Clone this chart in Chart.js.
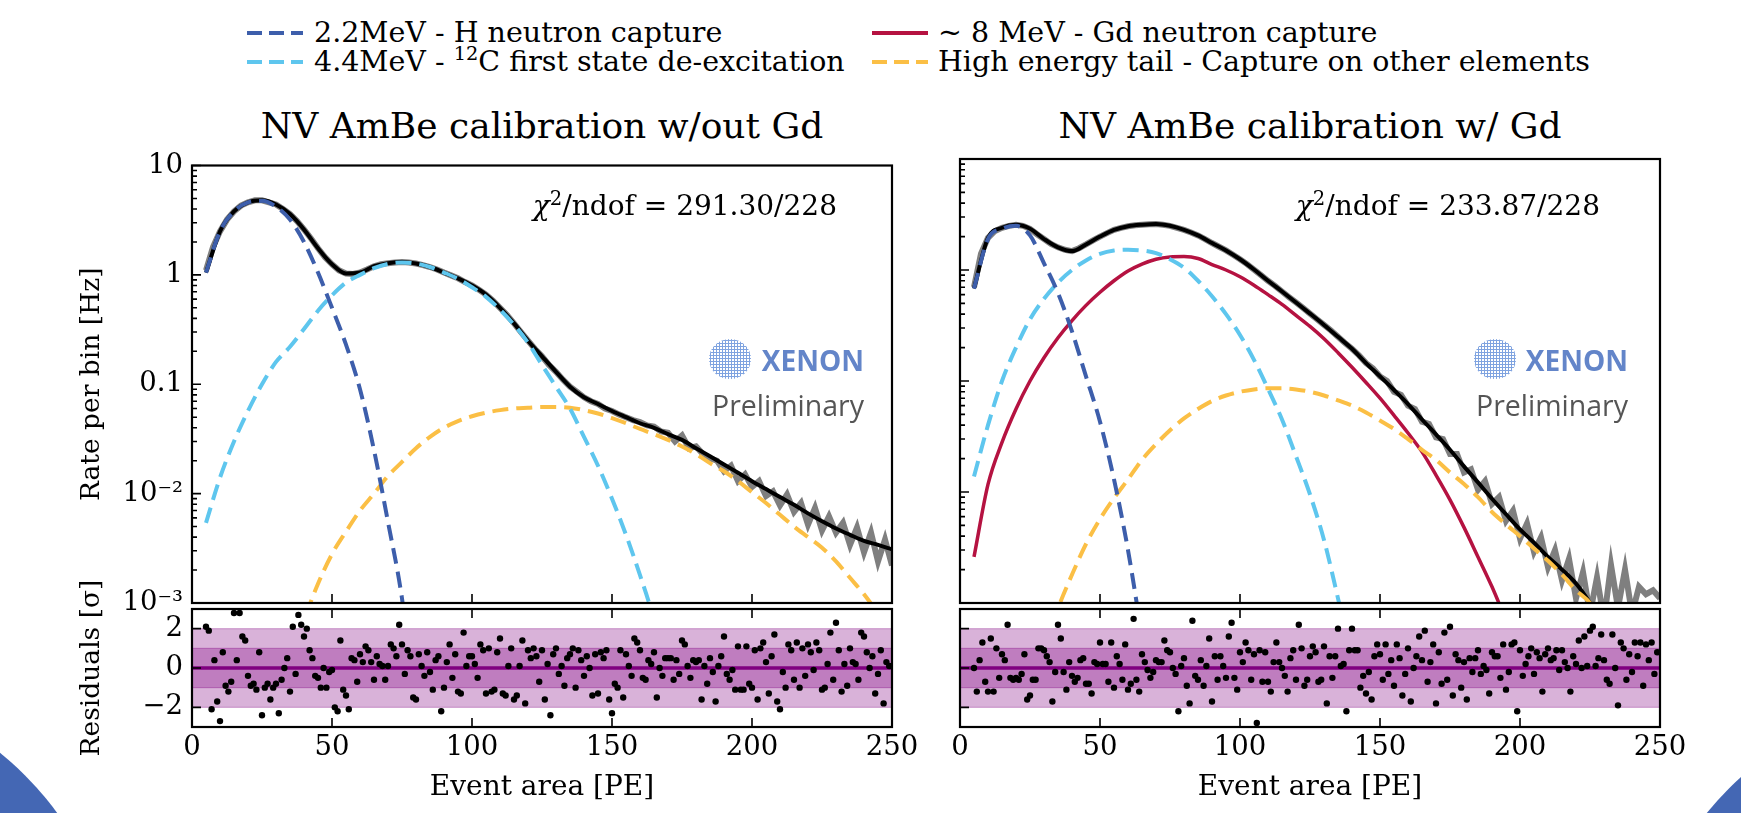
<!DOCTYPE html>
<html lang="en">
<head>
  <meta charset="UTF-8">
  <title>NV AmBe calibration</title>
  <script src="https://cdn.jsdelivr.net/npm/chart.js"></script>
  <style>
    body { margin: 0; }
    #page { position: relative; width: 1741px; height: 813px; overflow: hidden; background: #fff;
            font-family: 'DejaVu Serif', serif; color: #000; }
    canvas { position: absolute; }
    .corner { position: absolute; border-radius: 50%; background: #4467b4; }
    .legend { position: absolute; font-size: 28.5px; line-height: 32px; white-space: nowrap; }
    .legend sup { font-size: 0.68em; vertical-align: 0.55em; line-height: 0; }
    .swatch { position: absolute; width: 56px; height: 4px; }
    .title { position: absolute; width: 700px; text-align: center; font-size: 36px; line-height: 40px; }
    .chi { position: absolute; font-size: 28px; line-height: 34px; white-space: nowrap; }
    .chi sup { font-size: 0.7em; vertical-align: 0.5em; line-height: 0; }
    .logo { position: absolute; width: 42px; height: 40px; border-radius: 50%;
            background-image: radial-gradient(circle, #7fa3e0 48%, transparent 55%); background-size: 3px 3px; }
    .xenon { position: absolute; font-family: 'Open Sans', sans-serif; font-weight: 700; font-size: 28px;
             line-height: 32px; color: #6385c9; white-space: nowrap; }
    .prelim { position: absolute; font-family: 'Open Sans', sans-serif; font-size: 28.5px; line-height: 34px;
              color: #555; white-space: nowrap; }
  </style>
</head>
<body>
<div id="page">
  <div class="corner" style="left:-518px; top:682px; width:636px; height:636px;"></div>
  <div class="corner" style="left:1637px; top:697px; width:626px; height:626px;"></div>

  <div class="swatch" style="left:247px; top:31px; background: repeating-linear-gradient(90deg, #3d5eab 0 15px, transparent 15px 22px);"></div>
  <div class="legend" style="left:314px; top:17px;">2.2MeV - H neutron capture</div>
  <div class="swatch" style="left:247px; top:60px; background: repeating-linear-gradient(90deg, #5ec6ee 0 15px, transparent 15px 22px);"></div>
  <div class="legend" style="left:314px; top:46px;">4.4MeV - <sup>12</sup>C first state de-excitation</div>
  <div class="swatch" style="left:872px; top:31px; background: #b51241;"></div>
  <div class="legend" style="left:938px; top:17px;">~ 8 MeV - Gd neutron capture</div>
  <div class="swatch" style="left:872px; top:60px; background: repeating-linear-gradient(90deg, #fbbf45 0 15px, transparent 15px 22px);"></div>
  <div class="legend" style="left:938px; top:46px;">High energy tail - Capture on other elements</div>

  <div class="title" style="left:192px; top:106px;">NV AmBe calibration w/out Gd</div>
  <div class="title" style="left:960px; top:106px;">NV AmBe calibration w/ Gd</div>

  <canvas id="mainL" width="890" height="490" style="left:40px; top:140px;"></canvas>
  <canvas id="mainR" width="760" height="490" style="left:940px; top:140px;"></canvas>
  <canvas id="resL" width="890" height="253" style="left:40px; top:560px;"></canvas>
  <canvas id="resR" width="760" height="253" style="left:940px; top:560px;"></canvas>

  <div class="chi" style="right:904px; top:189px;"><i>χ</i><sup>2</sup>/ndof = 291.30/228</div>
  <div class="chi" style="right:141px; top:189px;"><i>χ</i><sup>2</sup>/ndof = 233.87/228</div>

  <div class="logo" style="left:709px; top:339px;"></div>
  <div class="xenon" style="right:877px; top:344px;">XENON</div>
  <div class="prelim" style="right:877px; top:388px;">Preliminary</div>
  <div class="logo" style="left:1474px; top:339px;"></div>
  <div class="xenon" style="right:113px; top:344px;">XENON</div>
  <div class="prelim" style="right:113px; top:388px;">Preliminary</div>
</div>
<script>
  // fit curves, sampled every 5 PE
  const gridPE = [5, 10, 15, 20, 25, 30, 35, 40, 45, 50, 55, 60, 65, 70, 75, 80, 85, 90, 95, 100,
    105, 110, 115, 120, 125, 130, 135, 140, 145, 150, 155, 160, 165, 170, 175, 180, 185, 190, 195, 200,
    205, 210, 215, 220, 225, 230, 235, 240, 245, 250];

  // without Gd
  const totalNoGd = [1.05, 2.5, 3.8, 4.6, 4.8, 4.4, 3.6, 2.6, 1.75, 1.25,
    1.03, 1.05, 1.2, 1.28, 1.31, 1.27, 1.18, 1.05, 0.93, 0.8,
    0.66, 0.5, 0.36, 0.25, 0.18, 0.13, 0.095, 0.076, 0.066, 0.057,
    0.05, 0.044, 0.04, 0.035, 0.031, 0.026, 0.022, 0.0185, 0.0155, 0.013,
    0.011, 0.0093, 0.0079, 0.0066, 0.0056, 0.0048, 0.0042, 0.0037, 0.0034, 0.0031];
  const hCaptureNoGd = [1.05, 2.5, 3.8, 4.6, 4.75, 4.2, 3.2, 2.0, 1.05, 0.5,
    0.23, 0.09, 0.025, 0.0055, 0.0011, 0.0001];
  const carbonNoGd = [0.0054, 0.014, 0.03, 0.057, 0.1, 0.16, 0.22, 0.32, 0.47, 0.65,
    0.85, 1.0, 1.15, 1.26, 1.3, 1.27, 1.18, 1.05, 0.92, 0.77,
    0.63, 0.48, 0.35, 0.24, 0.15, 0.095, 0.06, 0.033, 0.018, 0.009,
    0.0042, 0.0018, 0.0007, 0.0002];
  const tailNoGd = [null, null, null, null, null, null, 0.0003, 0.0007, 0.0015, 0.0028,
    0.0045, 0.007, 0.01, 0.0145, 0.0195, 0.026, 0.033, 0.04, 0.046, 0.051,
    0.055, 0.058, 0.06, 0.061, 0.062, 0.062, 0.061, 0.058, 0.054, 0.049,
    0.044, 0.039, 0.035, 0.031, 0.027, 0.023, 0.019, 0.016, 0.013, 0.0103,
    0.0082, 0.0064, 0.005, 0.004, 0.0032, 0.0024, 0.0017, 0.0012, 0.0008, 0.0005];

  // with Gd
  const totalGd = [0.68, 1.95, 2.4, 2.55, 2.35, 1.9, 1.6, 1.48, 1.7, 2.0,
    2.3, 2.48, 2.56, 2.6, 2.5, 2.3, 2.05, 1.75, 1.5, 1.25,
    1.01, 0.8, 0.64, 0.51, 0.405, 0.32, 0.25, 0.195, 0.145, 0.11,
    0.083, 0.062, 0.045, 0.033, 0.024, 0.017, 0.0122, 0.0087, 0.0063, 0.0046,
    0.0035, 0.0026, 0.002, 0.0015, 0.001, 0.0006];
  const hCaptureGd = [0.68, 1.9, 2.35, 2.5, 2.05, 1.15, 0.62, 0.28, 0.11, 0.043,
    0.013, 0.003, 0.0005];
  const carbonGd = [0.0138, 0.04, 0.1, 0.2, 0.36, 0.55, 0.77, 1.0, 1.22, 1.4,
    1.5, 1.52, 1.5, 1.42, 1.25, 1.05, 0.8, 0.58, 0.4, 0.26,
    0.155, 0.085, 0.045, 0.021, 0.0095, 0.0037, 0.0011, 0.0003];
  const gdCapture = [0.0026, 0.0117, 0.028, 0.056, 0.1, 0.162, 0.245, 0.35, 0.48, 0.63,
    0.8, 0.98, 1.13, 1.25, 1.31, 1.32, 1.27, 1.12, 1.0, 0.87,
    0.73, 0.6, 0.49, 0.39, 0.31, 0.24, 0.18, 0.133, 0.097, 0.07,
    0.049, 0.034, 0.023, 0.0142, 0.0085, 0.0048, 0.0026, 0.0014, 0.0007];
  const tailGd = [null, null, null, null, null, 0.0004, 0.0009, 0.0018, 0.0034, 0.0057,
    0.0088, 0.013, 0.0195, 0.027, 0.036, 0.046, 0.056, 0.066, 0.074, 0.08,
    0.084, 0.086, 0.086, 0.084, 0.08, 0.074, 0.067, 0.06, 0.052, 0.044,
    0.037, 0.03, 0.024, 0.0195, 0.015, 0.0118, 0.009, 0.0066, 0.0051, 0.004,
    0.0031, 0.0024, 0.0018, 0.0013, 0.001, 0.0006];

  // measured spectrum, bins of 2.5 PE
  const binPE = [5, 7.5, 10, 12.5, 15, 17.5, 20, 22.5, 25, 27.5, 30, 32.5, 35, 37.5, 40, 42.5, 45, 47.5, 50, 52.5,
    55, 57.5, 60, 62.5, 65, 67.5, 70, 72.5, 75, 77.5, 80, 82.5, 85, 87.5, 90, 92.5, 95, 97.5, 100, 102.5,
    105, 107.5, 110, 112.5, 115, 117.5, 120, 122.5, 125, 127.5, 130, 132.5, 135, 137.5, 140, 142.5, 145, 147.5, 150, 152.5,
    155, 157.5, 160, 162.5, 165, 167.5, 170, 172.5, 175, 177.5, 180, 182.5, 185, 187.5, 190, 192.5, 195, 197.5, 200, 202.5,
    205, 207.5, 210, 212.5, 215, 217.5, 220, 222.5, 225, 227.5, 230, 232.5, 235, 237.5, 240, 242.5, 245, 247.5, 250];
  const rateNoGd = [1.1, 1.8, 2.5, 3.2, 3.8, 4.3, 4.6, 4.8, 4.8, 4.6,
    4.4, 4.0, 3.6, 3.1, 2.6, 2.15, 1.75, 1.45, 1.25, 1.1,
    1.03, 1.02, 1.05, 1.12, 1.2, 1.25, 1.28, 1.3, 1.31, 1.3,
    1.27, 1.23, 1.18, 1.12, 1.05, 0.99, 0.93, 0.86, 0.8, 0.73,
    0.66, 0.58, 0.5, 0.43, 0.36, 0.3, 0.25, 0.21, 0.18, 0.15,
    0.13, 0.11, 0.095, 0.085, 0.076, 0.07, 0.066, 0.06, 0.057, 0.053,
    0.05, 0.047, 0.045, 0.042, 0.041, 0.037, 0.036, 0.03, 0.034, 0.026,
    0.027, 0.023, 0.021, 0.02, 0.016, 0.018, 0.013, 0.015, 0.0115, 0.013,
    0.0095, 0.0105, 0.0078, 0.0098, 0.0068, 0.0082, 0.0052, 0.0074, 0.0046, 0.0062,
    0.0044, 0.0054, 0.0034, 0.0049, 0.0029, 0.0044, 0.0024, 0.0038, 0.0022];
  const rateGd = [0.7, 1.4, 1.95, 2.25, 2.4, 2.5, 2.55, 2.5, 2.35, 2.1,
    1.9, 1.72, 1.6, 1.52, 1.48, 1.57, 1.7, 1.85, 2.0, 2.15,
    2.3, 2.4, 2.48, 2.53, 2.56, 2.58, 2.6, 2.56, 2.5, 2.4,
    2.3, 2.18, 2.05, 1.9, 1.75, 1.62, 1.5, 1.37, 1.25, 1.13,
    1.01, 0.9, 0.8, 0.72, 0.64, 0.57, 0.51, 0.455, 0.405, 0.36,
    0.32, 0.285, 0.25, 0.22, 0.195, 0.17, 0.145, 0.13, 0.11, 0.1,
    0.08, 0.075, 0.06, 0.056, 0.043, 0.041, 0.031, 0.03, 0.022, 0.022,
    0.015, 0.016, 0.0105, 0.0125, 0.0078, 0.009, 0.0055, 0.0068, 0.0038, 0.0052,
    0.0029, 0.0039, 0.0021, 0.003, 0.0016, 0.0025, 0.0011, 0.0019, 0.0008, 0.0017,
    0.0007, 0.0022, 0.0009, 0.002, 0.0008, 0.0014, 0.0012, 0.0013, 0.0011];

  // residuals, one per PE starting at 5 PE
  const residualStartPE = 5;
  const residualsNoGd = [2.1, 1.9, -2.1, 0.4, -1.7, -2.7, 0.8, -0.9, -1.2, -0.7,
    2.8, 0.4, 2.8, 1.6, 1.4, -0.4, -0.9, -0.8, -1.1, 0.8,
    -2.4, -1.0, -0.8, -1.6, -1.0, -0.8, -2.3, -0.6, 0.0, 0.5,
    -1.2, 2.1, -0.3, 2.7, 2.2, 1.6, 2.0, 0.9, 0.5, -0.4,
    -0.5, -1.0, 0.0, -1.0, -0.2, -0.1, -2.0, -2.2, 1.4, -1.1,
    -1.4, -2.1, 0.5, 0.4, -0.7, 0.7, 0.3, 1.1, 0.9, 0.3,
    -0.6, 0.6, 0.2, 0.1, -0.6, 0.1, 1.2, 1.0, 0.6, 2.2,
    1.2, -0.3, 0.9, 0.6, -1.5, -1.6, 0.7, 0.1, -0.4, 0.8,
    -0.2, -1.1, 0.4, 0.6, -2.2, -1.0, 0.3, 1.2, -0.5, 0.7,
    -1.2, -1.3, 1.8, 0.1, 0.6, 0.6, 0.2, -0.5, 1.2, 0.9,
    -1.3, 1.0, -1.2, -1.1, 0.8, 1.5, -1.3, -1.4, 0.1, 1.0,
    -1.6, -1.4, 0.1, 1.4, -1.8, 0.9, 0.5, 1.0, 0.6, -0.7,
    0.9, -1.6, 0.2, -2.4, 0.7, 1.0, -0.3, 0.1, -0.9, 0.5,
    0.7, 1.0, -1.0, 0.9, 0.4, -0.4, 0.6, 0.0, -1.4, 0.7,
    -1.3, 0.8, 0.5, 0.9, -1.6, -2.3, -0.8, -1.0, 0.9, -1.5,
    0.7, 0.1, -0.4, 1.5, 1.3, 0.9, -0.5, -0.6, 0.4, 0.2,
    0.8, -1.5, 0.0, -0.4, 0.5, 0.5, 0.5, -0.6, 0.4, -0.3,
    1.4, 1.2, 0.1, -0.5, 0.4, 0.3, 0.4, -1.6, 0.1, -0.8,
    0.5, -0.2, -1.7, 0.1, 0.6, 1.6, -0.3, -0.6, -0.1, -1.1,
    1.1, -1.1, -1.1, 1.1, -0.8, -1.0, 0.9, -1.6, 1.0, 1.3,
    0.3, -1.3, 0.6, 1.7, -1.7, -2.1, -0.2, -1.0, 1.2, 0.9,
    -0.6, 1.3, -1.0, 1.0, -0.4, 1.2, 0.8, -0.1, 1.3, 0.9,
    -1.1, -1.0, 0.2, 1.8, -0.6, 2.3, 0.9, -1.2, 0.2, -0.9,
    1.0, 0.3, 0.2, -0.6, 1.8, 1.6, 0.8, 0.0, 0.6, -1.3,
    -0.3, 0.9, -1.8, 0.3, 0.1];
  const residualsGd = [0.0, -1.2, 0.4, 1.3, -0.7, -1.2, 1.5, -1.2, 1.0, -0.5,
    0.7, 0.4, 2.2, -0.5, -0.6, -0.5, -0.6, -0.3, 0.7, -1.6,
    -1.4, -0.6, -0.6, 1.0, 1.0, 0.9, 0.6, 0.3, -1.7, -0.2,
    2.2, 1.5, -0.2, -1.1, 0.3, -0.4, -0.7, -0.5, 0.4, 0.5,
    -0.8, -0.8, -1.3, 0.3, 0.2, 1.3, 0.2, 0.2, -0.7, 1.3,
    -1.0, 0.6, 0.2, -0.6, 1.2, -1.1, -0.8, 2.5, -0.6, -1.2,
    0.7, 0.3, -0.1, -0.5, -0.2, 0.4, 0.3, 0.3, 1.4, 0.9,
    0.8, 0.0, -0.3, -2.2, 0.1, 0.5, -0.9, -1.8, 2.4, -0.4,
    -0.6, 0.4, -0.9, 0.1, 1.5, -1.7, 0.6, -0.6, 0.6, 0.1,
    -0.5, 1.6, 2.3, -0.5, -1.1, 0.8, 0.3, 1.3, 0.9, -0.6,
    0.7, -2.8, 0.9, -0.7, 0.8, -0.7, -1.2, 0.3, 1.3, 0.3,
    0.0, -0.4, -1.2, 0.5, 0.9, -0.6, 2.2, 1.0, -0.9, -0.6,
    0.6, 1.1, 0.8, -0.7, -0.6, 1.1, -1.8, 0.6, -0.5, 0.6,
    2.0, 0.1, 0.2, -2.2, 0.9, 2.0, 0.9, 0.9, -1.0, -0.4,
    -1.3, -0.2, -1.6, 0.6, 1.2, 0.7, -0.6, 1.2, -0.3, 0.4,
    -0.9, 1.2, 0.5, -1.4, -0.3, 1.0, -1.7, 0.0, 0.6, 1.6,
    0.4, 1.9, -0.7, 0.3, 1.2, -1.8, 0.8, -0.8, 1.8, -0.6,
    2.1, -1.4, 0.7, 0.4, -1.0, 0.3, -1.6, 0.5, -0.2, 0.5,
    0.9, -0.3, 0.1, -0.1, -1.3, 0.8, 0.6, 0.6, -0.5, 1.2,
    -1.1, -0.2, 1.2, 1.3, -2.2, 0.9, -0.4, 0.2, 0.6, 1.0,
    -0.3, 0.8, 0.5, -1.2, 0.7, 1.0, 0.4, 0.5, 0.9, -0.1,
    0.9, 0.3, 0.0, -1.2, 0.6, 0.2, 1.4, 0.0, 1.6, 0.1,
    1.9, 2.1, 0.1, 0.5, 1.7, 0.4, -0.6, -0.8, 1.7, 0.0,
    -1.9, 1.3, 1.0, -0.6, 0.7, -0.2, 1.3, 0.6, 1.3, -0.9,
    1.2, 0.4, 1.3, -0.3, 0.8];

  const sigmaBands = [1, 2];
  const peRange = [0, 250];

  const decadeTicks = [0.001, 0.01, 0.1, 1, 10];
  const decadeLabels = ['10⁻³', '10⁻²', '0.1', '1', '10'];
  const peTicks = [0, 50, 100, 150, 200, 250];
  const peLabels = ['0', '50', '100', '150', '200', '250'];
  const residualTicks = [-2, 0, 2];
  const residualLabels = ['−2', '0', '2'];

  const DARK = '#3d5eab', LIGHT = '#5ec6ee', YELLOW = '#fbbf45', CRIMSON = '#b51241', GRAY = '#7f7f7f';

  Chart.defaults.font.family = "'DejaVu Serif', serif";
  Chart.defaults.color = '#000';

  const minorLog = decadeTicks.slice(0, -1).flatMap(d => [2, 3, 4, 5, 6, 7, 8, 9].map(m => m * d));
  const pts = (xs, ys) => xs.map((x, i) => ({ x, y: ys[i] === undefined ? null : ys[i] }));
  const resPts = ys => ys.map((y, i) => ({ x: residualStartPE + i, y }));
  const band = level => peRange.map(x => ({ x, y: level }));

  // inward tick marks and the box frame
  const axesFrame = {
    id: 'axesFrame',
    afterDatasetsDraw(chart, args, o) {
      const { ctx, chartArea: a } = chart;
      const sx = chart.scales.x, sy = chart.scales.y;
      ctx.save();
      ctx.strokeStyle = '#000';
      ctx.lineWidth = 1.6;
      ctx.beginPath();
      const yTick = (v, len) => {
        const p = sy.getPixelForValue(v);
        ctx.moveTo(a.left, p); ctx.lineTo(a.left + len, p);
      };
      (o.yMajor || []).forEach(v => yTick(v, 9));
      (o.yMinor || []).forEach(v => yTick(v, 5));
      peTicks.forEach(v => {
        const p = sx.getPixelForValue(v);
        if (o.bottom) { ctx.moveTo(p, a.bottom); ctx.lineTo(p, a.bottom - 9); }
        if (o.top) { ctx.moveTo(p, a.top); ctx.lineTo(p, a.top + 9); }
      });
      ctx.stroke();
      ctx.lineWidth = 2.2;
      ctx.strokeRect(a.left, a.top, a.right - a.left, a.bottom - a.top);
      ctx.restore();
    }
  };

  function curve(label, values, color, dashed, order) {
    return { label, data: pts(gridPE, values), borderColor: color, borderWidth: dashed ? 4 : 3.5,
             borderDash: dashed ? [16, 8] : [], order, clip: 0 };
  }

  function dataLine(values) {
    return { label: 'Data', data: pts(binPE, values), borderColor: GRAY, borderWidth: 6,
             cubicInterpolationMode: 'default', tension: 0, order: 5, clip: 0 };
  }

  function spectrumChart(id, datasets, showY, padding) {
    return new Chart(document.getElementById(id), {
      type: 'line',
      data: { datasets },
      options: {
        responsive: false,
        animation: false,
        layout: { padding },
        elements: { point: { radius: 0 }, line: { cubicInterpolationMode: 'monotone' } },
        plugins: {
          legend: { display: false },
          tooltip: { enabled: false },
          axesFrame: { yMajor: decadeTicks, yMinor: minorLog, bottom: true }
        },
        scales: {
          x: { type: 'linear', min: 0, max: 250, display: false },
          y: {
            type: 'logarithmic', min: 0.001, max: 10, display: showY,
            afterBuildTicks: s => { s.ticks = decadeTicks.map(v => ({ value: v })); },
            afterFit: s => { if (showY) s.width = 152; },
            grid: { display: false, drawTicks: false },
            border: { display: false },
            ticks: { font: { size: 27.5 }, padding: 9, callback: (v, i) => decadeLabels[i] },
            title: { display: true, text: 'Rate per bin [Hz]', font: { size: 26.5 }, padding: { top: 36 } }
          }
        }
      },
      plugins: [axesFrame]
    });
  }

  function residualChart(id, values, showY, padding) {
    const bandStyle = { borderColor: 'rgba(128,0,128,0.3)', borderWidth: 1.2, backgroundColor: 'rgba(128,0,128,0.3)' };
    return new Chart(document.getElementById(id), {
      type: 'line',
      data: {
        datasets: [
          { data: resPts(values), showLine: false, pointRadius: 3.2, pointBackgroundColor: '#000',
            pointBorderWidth: 0, order: 0 },
          { data: band(0), borderColor: '#800080', borderWidth: 3.5, order: 1 },
          { data: band(sigmaBands[0]), fill: '+1', ...bandStyle, order: 2 },
          { data: band(-sigmaBands[0]), ...bandStyle, order: 3 },
          { data: band(sigmaBands[1]), fill: '+1', ...bandStyle, order: 4 },
          { data: band(-sigmaBands[1]), ...bandStyle, order: 5 }
        ]
      },
      options: {
        responsive: false,
        animation: false,
        layout: { padding },
        elements: { point: { radius: 0 } },
        plugins: {
          legend: { display: false },
          tooltip: { enabled: false },
          axesFrame: { yMajor: residualTicks, bottom: true, top: true }
        },
        scales: {
          x: {
            type: 'linear', min: 0, max: 250,
            afterBuildTicks: s => { s.ticks = peTicks.map(v => ({ value: v })); },
            afterFit: s => { s.height = 86; },
            grid: { display: false, drawTicks: false },
            border: { display: false },
            ticks: { font: { size: 27.5 }, padding: 4, maxRotation: 0, callback: (v, i) => peLabels[i] },
            title: { display: true, text: 'Event area [PE]', font: { size: 28 }, padding: { bottom: 8 } }
          },
          y: {
            type: 'linear', min: -3, max: 3, display: showY,
            afterBuildTicks: s => { s.ticks = residualTicks.map(v => ({ value: v })); },
            afterFit: s => { if (showY) s.width = 152; },
            grid: { display: false, drawTicks: false },
            border: { display: false },
            ticks: { font: { size: 27.5 }, padding: 9, callback: (v, i) => residualLabels[i] },
            title: { display: true, text: 'Residuals [σ]', font: { size: 26.5 }, padding: { top: 36 } }
          }
        }
      },
      plugins: [axesFrame]
    });
  }

  spectrumChart('mainL', [
    curve('H capture', hCaptureNoGd, DARK, true, 0),
    curve('12C de-excitation', carbonNoGd, LIGHT, true, 1),
    curve('High energy tail', tailNoGd, YELLOW, true, 2),
    { label: 'Total fit', data: pts(gridPE, totalNoGd), borderColor: '#000', borderWidth: 4, order: 4, clip: 0 },
    dataLine(rateNoGd)
  ], true, { left: 0, top: 19, right: 38, bottom: 27 });

  spectrumChart('mainR', [
    curve('H capture', hCaptureGd, DARK, true, 0),
    curve('12C de-excitation', carbonGd, LIGHT, true, 1),
    curve('High energy tail', tailGd, YELLOW, true, 2),
    curve('Gd capture', gdCapture, CRIMSON, false, 3),
    { label: 'Total fit', data: pts(gridPE, totalGd), borderColor: '#000', borderWidth: 4, order: 4, clip: 0 },
    dataLine(rateGd)
  ], false, { left: 20, top: 19, right: 40, bottom: 27 });

  residualChart('resL', residualsNoGd, true, { left: 0, top: 49, right: 38, bottom: 0 });
  residualChart('resR', residualsGd, false, { left: 20, top: 49, right: 40, bottom: 0 });
</script>
</body>
</html>
